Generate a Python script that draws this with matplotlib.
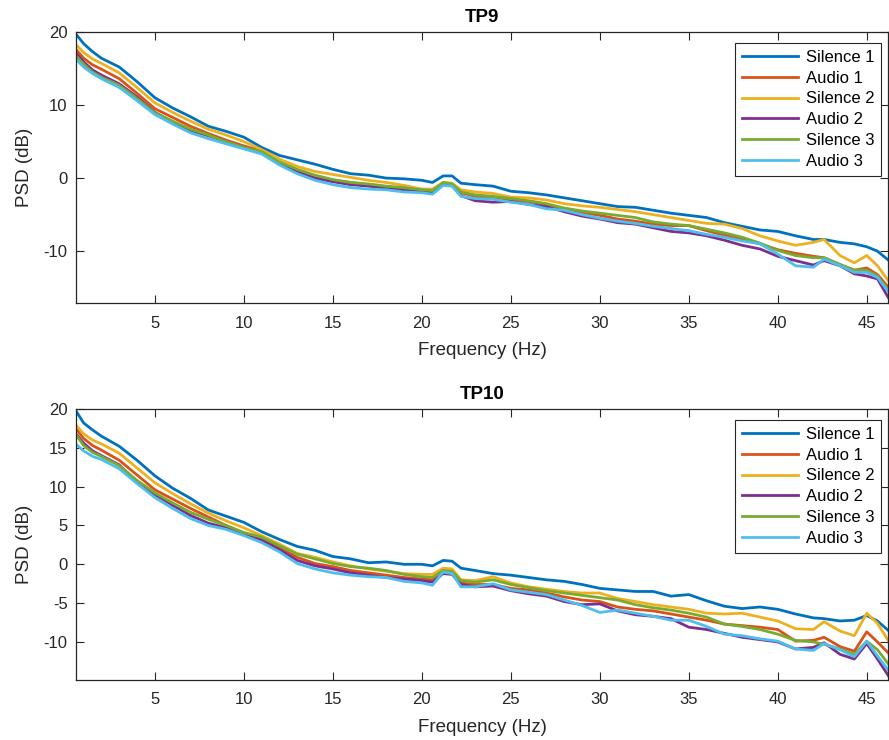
import numpy as np
import matplotlib
matplotlib.use('Agg')
import matplotlib.pyplot as plt

plt.rcParams['font.family'] = ['Liberation Sans', 'DejaVu Sans']
plt.rcParams['axes.unicode_minus'] = False

# frequency points (Hz)
freq = [0.5, 1, 1.5, 2, 3, 4, 5, 6, 7, 8, 9, 10, 11, 12, 13, 14, 15, 16, 17, 18, 19, 20,
        20.6, 21.2, 21.7, 22.2, 23, 24, 25, 26, 27, 28, 29, 30, 31, 32, 33, 34, 35, 36,
        37, 38, 39, 40, 41, 42, 42.6, 43.5, 44.3, 45, 45.6, 46.2]

labels = ['Silence 1', 'Audio 1', 'Silence 2', 'Audio 2', 'Silence 3', 'Audio 3']
colors = ['#0072BD', '#D95319', '#EDB120', '#7E2F8E', '#77AC30', '#4DBEEE']

# TP9 channel PSD (dB)
tp9_s1 = [19.9, 18.4, 17.3, 16.4, 15.2, 13.2, 11.0, 9.6, 8.4, 7.1, 6.4, 5.6, 4.2, 3.1, 2.5, 1.9, 1.2, 0.6, 0.4, 0.0, -0.1, -0.3,
          -0.6, 0.3, 0.3, -0.7, -0.9, -1.1, -1.8, -2.0, -2.3, -2.7, -3.1, -3.5, -3.9, -4.0, -4.4, -4.8, -5.1, -5.4,
          -6.1, -6.6, -7.1, -7.3, -7.9, -8.4, -8.4, -8.8, -9.0, -9.4, -10.0, -11.2]
tp9_a1 = [17.8, 16.4, 15.5, 14.9, 13.6, 11.6, 9.5, 8.3, 7.1, 6.1, 5.2, 4.4, 3.7, 2.0, 0.9, 0.0, -0.3, -0.6, -0.9, -1.2, -1.4, -1.7,
          -1.8, -0.7, -0.9, -2.0, -2.5, -2.7, -2.9, -3.2, -3.6, -4.2, -4.7, -5.1, -5.6, -5.9, -6.3, -6.5, -6.5, -7.2,
          -7.8, -8.4, -9.0, -9.8, -10.3, -10.7, -10.9, -11.9, -12.6, -12.3, -13.2, -14.9]
tp9_s2 = [18.4, 17.2, 16.3, 15.7, 14.4, 12.4, 10.3, 9.0, 7.8, 6.7, 5.9, 5.0, 3.9, 2.6, 1.6, 0.9, 0.5, 0.1, -0.3, -0.6, -1.0, -1.5,
          -1.5, -0.6, -0.7, -1.6, -1.9, -2.1, -2.6, -2.7, -3.0, -3.5, -3.8, -4.0, -4.3, -4.6, -5.0, -5.4, -5.8, -6.2,
          -6.3, -6.9, -7.9, -8.6, -9.2, -8.8, -8.4, -10.6, -11.6, -10.6, -12.0, -14.0]
tp9_a2 = [17.3, 15.9, 14.8, 14.1, 12.9, 11.1, 9.0, 7.7, 6.5, 5.8, 5.0, 4.2, 3.5, 2.0, 0.8, 0.0, -0.5, -0.9, -1.1, -1.4, -1.7, -1.9,
          -2.1, -0.8, -1.0, -2.4, -3.1, -3.3, -3.2, -3.6, -3.9, -4.6, -5.2, -5.6, -6.1, -6.3, -6.8, -7.3, -7.5, -7.9,
          -8.5, -9.2, -9.7, -10.7, -11.3, -11.9, -11.3, -12.0, -13.1, -13.4, -13.8, -16.3]
tp9_s3 = [16.9, 15.6, 14.5, 13.8, 12.7, 10.9, 8.9, 7.8, 6.7, 5.9, 5.0, 4.2, 3.6, 2.2, 1.2, 0.4, -0.2, -0.6, -0.8, -1.1, -1.3, -1.6,
          -1.7, -0.6, -0.8, -1.9, -2.3, -2.5, -2.8, -3.1, -3.5, -4.1, -4.5, -4.8, -5.1, -5.4, -6.0, -6.3, -6.5, -7.0,
          -7.5, -8.1, -8.9, -9.9, -10.6, -10.9, -10.9, -11.8, -12.6, -12.6, -13.4, -15.3]
tp9_a3 = [16.4, 15.2, 14.3, 13.6, 12.4, 10.6, 8.7, 7.4, 6.2, 5.4, 4.7, 4.0, 3.3, 1.8, 0.6, -0.3, -0.9, -1.3, -1.5, -1.6, -1.9, -2.0,
          -2.2, -1.0, -1.1, -2.5, -2.8, -2.9, -3.3, -3.6, -4.2, -4.4, -5.0, -5.5, -5.9, -6.2, -6.6, -6.9, -7.2, -7.7,
          -8.1, -8.6, -9.0, -10.4, -12.0, -12.2, -11.1, -12.0, -12.9, -12.9, -13.6, -15.5]

# TP10 channel PSD (dB)
tp10_s1 = [20.0, 18.2, 17.3, 16.5, 15.2, 13.4, 11.4, 9.8, 8.5, 7.0, 6.2, 5.4, 4.2, 3.2, 2.3, 1.8, 1.0, 0.7, 0.2, 0.3, 0.0, 0.0,
           -0.2, 0.5, 0.4, -0.5, -0.8, -1.2, -1.4, -1.7, -2.0, -2.2, -2.6, -3.1, -3.3, -3.5, -3.5, -4.1, -3.9, -4.7,
           -5.4, -5.7, -5.5, -5.8, -6.4, -6.9, -7.0, -7.3, -7.2, -6.6, -7.3, -8.5]
tp10_a1 = [17.7, 16.2, 15.3, 14.7, 13.4, 11.5, 9.6, 8.4, 7.2, 6.1, 5.0, 4.0, 3.3, 2.1, 0.9, 0.1, -0.3, -0.8, -1.1, -1.4, -1.7, -1.9,
           -2.0, -0.8, -1.0, -2.4, -2.6, -2.6, -3.1, -3.3, -3.7, -4.2, -4.6, -4.8, -5.5, -5.8, -6.0, -6.4, -6.8, -7.2,
           -7.7, -7.9, -8.1, -8.4, -9.9, -9.8, -9.4, -10.6, -11.2, -8.7, -10.0, -11.4]
tp10_s2 = [18.1, 16.8, 16.0, 15.5, 14.3, 12.4, 10.5, 9.1, 7.8, 6.6, 5.6, 4.7, 3.7, 2.6, 1.4, 0.9, 0.3, -0.2, -0.6, -0.9, -1.2, -1.3,
           -1.3, -0.5, -0.6, -2.0, -2.1, -1.6, -2.4, -2.9, -3.2, -3.5, -3.7, -3.7, -4.4, -4.8, -5.2, -5.5, -5.8, -6.3,
           -6.4, -6.3, -6.8, -7.3, -8.3, -8.4, -7.4, -8.6, -9.2, -6.3, -7.6, -9.8]
tp10_a2 = [17.0, 15.6, 14.6, 14.0, 12.8, 10.6, 9.0, 7.6, 6.3, 5.3, 4.7, 3.8, 3.1, 1.9, 0.5, -0.2, -0.6, -1.1, -1.4, -1.7, -1.9, -2.1,
           -2.3, -1.2, -1.3, -2.6, -2.9, -2.8, -3.4, -3.8, -4.1, -4.8, -5.2, -5.1, -6.0, -6.5, -6.7, -7.0, -8.1, -8.4,
           -8.9, -9.4, -9.7, -10.0, -10.9, -10.7, -10.1, -11.6, -12.2, -10.2, -12.2, -14.3]
tp10_s3 = [16.9, 15.3, 14.4, 13.9, 12.7, 10.8, 9.2, 7.9, 6.7, 5.8, 5.0, 4.1, 3.5, 2.4, 1.3, 0.7, 0.1, -0.3, -0.5, -0.8, -1.3, -1.6,
           -1.7, -0.8, -0.9, -2.1, -2.3, -2.0, -2.6, -3.0, -3.4, -3.7, -4.0, -4.3, -4.6, -5.2, -5.6, -5.9, -6.3, -6.8,
           -7.7, -8.0, -8.4, -9.0, -9.8, -10.0, -10.3, -10.9, -11.6, -9.9, -11.0, -12.8]
tp10_a3 = [15.6, 14.6, 13.9, 13.5, 12.3, 10.4, 8.6, 7.2, 5.9, 5.0, 4.5, 3.7, 2.8, 1.6, 0.1, -0.6, -1.1, -1.4, -1.6, -1.7, -2.2, -2.4,
           -2.7, -1.0, -1.2, -2.9, -2.9, -2.5, -3.3, -3.6, -3.9, -4.6, -5.3, -6.2, -5.9, -6.3, -6.7, -7.2, -7.2, -8.0,
           -9.0, -9.2, -9.6, -9.9, -10.9, -11.1, -10.2, -11.0, -11.9, -9.9, -11.8, -13.6]

tp9 = [tp9_s1, tp9_a1, tp9_s2, tp9_a2, tp9_s3, tp9_a3]
tp10 = [tp10_s1, tp10_a1, tp10_s2, tp10_a2, tp10_s3, tp10_a3]

fig = plt.figure(figsize=(8.89, 7.4), dpi=100)
ax1 = fig.add_axes([0.0855, 0.5905, 0.9135, 0.3663])
ax2 = fig.add_axes([0.0855, 0.0811, 0.9135, 0.3662])

dark = '#262626'
panels = [(ax1, tp9, 'TP9', (-17.1, 20), [-10, 0, 10, 20]),
          (ax2, tp10, 'TP10', (-14.9, 20), [-10, -5, 0, 5, 10, 15, 20])]

for ax, data, title, ylim, yt in panels:
    for vals, lab, c in zip(data, labels, colors):
        ax.plot(freq, vals, color=c, lw=2.0, label=lab)
    ax.set_xlim(0.57, 46.2)
    ax.set_ylim(*ylim)
    ax.set_xticks([5, 10, 15, 20, 25, 30, 35, 40, 45])
    ax.set_yticks(yt)
    ax.tick_params(direction='in', top=True, right=True, length=6, width=0.8,
                   color=dark, labelcolor=dark, labelsize=12)
    ax.tick_params(axis='x', pad=9)
    ax.tick_params(axis='y', pad=6)
    for sp in ax.spines.values():
        sp.set_color(dark)
        sp.set_linewidth(0.9)
    ax.set_title(title, fontsize=13.5, fontweight='bold', pad=7)
    ax.set_xlabel('Frequency (Hz)', fontsize=13.5, color=dark, labelpad=8)
    ax.set_ylabel('PSD (dB)', fontsize=13.5, color=dark, labelpad=8)
    leg = ax.legend(loc='upper right', bbox_to_anchor=(0.9914, 0.959), fontsize=12,
                    handlelength=3.4, handletextpad=0.45, borderpad=0.4,
                    labelspacing=0.35, fancybox=False, framealpha=1, borderaxespad=0)
    leg.get_frame().set_edgecolor(dark)
    leg.get_frame().set_linewidth(0.8)

fig.savefig('out.png', dpi=100)
